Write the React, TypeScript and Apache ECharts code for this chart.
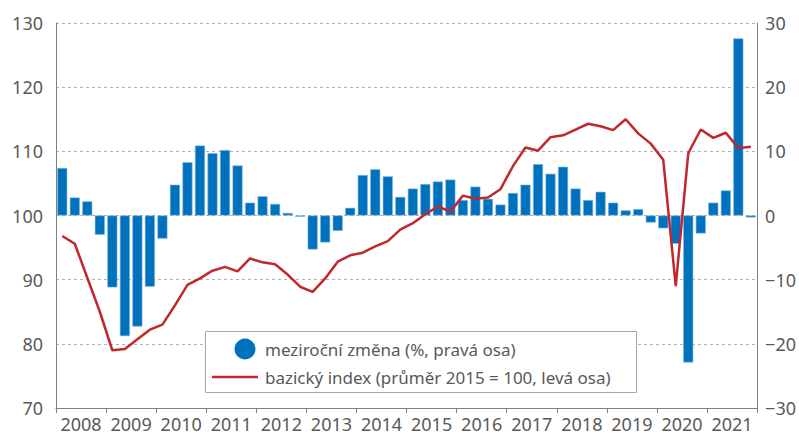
import React, { useEffect, useRef } from "react";
import * as echarts from "echarts";

const years = ["2008","2009","2010","2011","2012","2013","2014","2015","2016","2017","2018","2019","2020","2021"];

// year-on-year change (%, right axis), quarterly
const yoyChange = [
  7.4, 2.8, 2.2, -3.0,
  -11.2, -18.8, -17.3, -11.1,
  -3.6, 4.8, 8.3, 10.9,
  9.7, 10.2, 7.8, 2.0,
  3.0, 1.8, 0.4, -0.2,
  -5.3, -4.2, -2.4, 1.2,
  6.3, 7.2, 6.1, 2.9,
  4.2, 4.9, 5.3, 5.6,
  2.4, 4.5, 2.6, 1.7,
  3.5, 4.8, 8.0, 6.5,
  7.6, 4.2, 2.4, 3.7,
  2.0, 0.8, 1.0, -1.1,
  -2.0, -4.4, -22.9, -2.8,
  2.0, 3.9, 27.6, -0.3,
];

// base index (2015 average = 100, left axis), quarterly
const baseIndex = [
  96.8, 95.6, 90.3, 85.0,
  79.0, 79.2, 80.7, 82.2,
  83.0, 86.0, 89.2, 90.2,
  91.4, 92.0, 91.3, 93.3,
  92.7, 92.4, 90.8, 88.9,
  88.1, 90.2, 92.8, 93.8,
  94.2, 95.2, 96.0, 97.8,
  98.8, 100.2, 101.4, 100.6,
  103.1, 102.6, 102.8, 104.1,
  107.7, 110.6, 110.1, 112.2,
  112.5, 113.4, 114.3, 113.9,
  113.3, 115.0, 112.8, 111.2,
  108.7, 89.0, 109.7, 113.4,
  112.1, 112.9, 110.5, 110.7,
];

const leftTicks = { min: 70, max: 130, interval: 10 };
const rightTicks = { min: -30, max: 30, interval: 10 };

const legendBar = "meziroční změna (%, pravá osa)";
const legendLine = "bazický index (průměr 2015 = 100, levá osa)";

const quarters = years.flatMap((y) => ["Q1", "Q2", "Q3", "Q4"].map((q) => y + q));

const BLUE = "#0071BC";
const RED = "#C1272D";
const TEXT = "#595959";
const AXIS = "#808080";
const FONT = "Noto Sans";

export default function App() {
  const ref = useRef<HTMLDivElement>(null);
  useEffect(() => {
    if (!ref.current) return;
    const chart = echarts.init(ref.current, null, { renderer: "svg" });
    chart.setOption({
      animation: false,
      textStyle: { fontFamily: FONT },
      grid: { left: 56, right: 41, top: 23, bottom: 27 },
      xAxis: [
        {
          type: "category",
          data: quarters,
          show: false,
          position: "top",
          boundaryGap: true,
        },
        {
          type: "category",
          data: years,
          position: "bottom",
          boundaryGap: true,
          axisLine: { show: true, lineStyle: { color: AXIS, width: 1 } },
          axisTick: { show: true, length: 5, interval: 0, lineStyle: { color: AXIS } },
          axisLabel: { color: TEXT, fontSize: 18, margin: 7, fontFamily: FONT, interval: 0, hideOverlap: false },
          splitLine: { show: false },
        },
      ],
      yAxis: [
        {
          type: "value",
          position: "left",
          ...leftTicks,
          axisLine: { show: true, lineStyle: { color: AXIS } },
          axisTick: { show: false },
          axisLabel: { color: TEXT, fontSize: 18, margin: 13, fontFamily: FONT },
          splitLine: { show: true, lineStyle: { color: "#b3b3b3", type: [3, 3], width: 1 } },
        },
        {
          type: "value",
          position: "right",
          ...rightTicks,
          axisLine: { show: true, lineStyle: { color: AXIS } },
          axisTick: { show: false },
          axisLabel: {
            color: TEXT,
            fontSize: 18,
            margin: 8,
            fontFamily: FONT,
            formatter: (v: number) => String(v).replace("-", "\u2212"),
          },
          splitLine: { show: false },
        },
      ],
      series: [
        {
          name: legendBar,
          type: "bar",
          xAxisIndex: 0,
          yAxisIndex: 1,
          data: yoyChange,
          barWidth: 10,
          itemStyle: { color: BLUE, borderColor: "#79b4e3", borderWidth: 0.6 },
        },
        {
          name: legendLine,
          type: "line",
          xAxisIndex: 0,
          yAxisIndex: 0,
          data: baseIndex,
          symbol: "none",
          lineStyle: { color: RED, width: 2.5 },
          z: 5,
        },
      ],
      graphic: [
        {
          type: "rect",
          z: 100,
          shape: { x: 205.5, y: 331.5, width: 431, height: 61 },
          style: { fill: "#ffffff", stroke: "#a6a6a6", lineWidth: 1 },
        },
        {
          type: "circle",
          z: 101,
          shape: { cx: 245, cy: 349, r: 10.5 },
          style: { fill: BLUE },
        },
        {
          type: "text",
          z: 101,
          x: 265,
          y: 349,
          style: {
            text: legendBar,
            fill: TEXT,
            fontSize: 17,
            fontFamily: FONT,
            verticalAlign: "middle",
          },
        },
        {
          type: "line",
          z: 101,
          shape: { x1: 212, y1: 377, x2: 258, y2: 377 },
          style: { stroke: RED, lineWidth: 2.5 },
        },
        {
          type: "text",
          z: 101,
          x: 265,
          y: 377,
          style: {
            text: legendLine,
            fill: TEXT,
            fontSize: 17,
            fontFamily: FONT,
            verticalAlign: "middle",
          },
        },
      ],
    });
    return () => chart.dispose();
  }, []);
  return <div ref={ref} style={{ width: 799, height: 435, position: "absolute", left: 0, top: 0 }} />;
}
